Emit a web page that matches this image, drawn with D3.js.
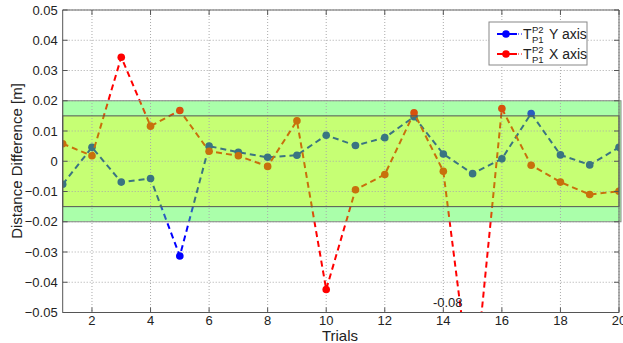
<!DOCTYPE html>
<html><head><meta charset="utf-8">
<script src="https://cdn.jsdelivr.net/npm/d3@7"></script>
<style>body{margin:0;background:#fff;} svg{font-family:"Liberation Sans",Arial,sans-serif;}</style>
</head><body><svg id="c" width="623" height="343"></svg>
<script>
const trials = d3.range(1, 21);
const yAxisSeries = [-0.0076,0.0046,-0.0069,-0.0057,-0.0313,0.0050,0.0030,0.0013,0.0020,0.0086,0.0052,0.0078,0.0147,0.0024,-0.0041,0.0008,0.0158,0.0021,-0.0012,0.0046];
const xAxisSeries = [0.0058,0.0018,0.0344,0.0116,0.0168,0.0033,0.0018,-0.0017,0.0134,-0.0424,-0.0094,-0.0044,0.0160,-0.0033,-0.0800,0.0174,-0.0013,-0.0069,-0.0110,-0.0099];
const yTicks = [-0.05,-0.04,-0.03,-0.02,-0.01,0,0.01,0.02,0.03,0.04,0.05];
const xTicks = [2,4,6,8,10,12,14,16,18,20];
const outerBand = [-0.02, 0.02];
const innerBand = [-0.015, 0.015];
const annotation = {x: 14.15, y: -0.08, label: "-0.08"};

const svg = d3.select("#c");
const L = 62.7, R = 619, T = 10, B = 312.5;
const x = d3.scaleLinear().domain([1,20]).range([L,R]);
const y = d3.scaleLinear().domain([-0.05,0.05]).range([B,T]);

const defs = svg.append("defs");
function clip(id, rects){
  const cp = defs.append("clipPath").attr("id",id);
  rects.forEach(r=>cp.append("rect").attr("x",L).attr("width",R-L)
    .attr("y",Math.min(r[0],r[1])).attr("height",Math.abs(r[1]-r[0])));
}
clip("cOut", [[T, y(outerBand[1])],[y(outerBand[0]), B]]);
clip("cStrip", [[y(outerBand[1]), y(innerBand[1])],[y(innerBand[0]), y(outerBand[0])]]);
clip("cIn", [[y(innerBand[1]), y(innerBand[0])]]);

// bands (behind)
svg.append("rect").attr("x",L).attr("y",y(outerBand[1])).attr("width",R-L+2)
  .attr("height",y(outerBand[0])-y(outerBand[1])).attr("fill","#aaffaa");
svg.append("rect").attr("x",L).attr("y",y(innerBand[1])).attr("width",R-L)
  .attr("height",y(innerBand[0])-y(innerBand[1])).attr("fill","#c6ff74");

// grid
const g = svg.append("g");
g.selectAll(".gx").data(xTicks).join("line")
  .attr("x1",d=>x(d)).attr("x2",d=>x(d)).attr("y1",T).attr("y2",B)
  .attr("stroke","#aaa").attr("stroke-width",1).attr("stroke-dasharray","1,2");
g.selectAll(".gy").data(yTicks).join("line")
  .attr("x1",L).attr("x2",R).attr("y1",d=>y(d)).attr("y2",d=>y(d))
  .attr("stroke","#aaa").attr("stroke-width",1).attr("stroke-dasharray","1,2");

// series
const series = [
  {name:"Y axis", data:yAxisSeries, color:"#0000ff", strip:"#2a5cc0", inner:"#3a7482"},
  {name:"X axis", data:xAxisSeries, color:"#ff0000", strip:"#d8500c", inner:"#c8700c"}
];
const line = d3.line().x((d,i)=>x(trials[i])).y(d=>y(d));
[["cOut","color"],["cStrip","strip"],["cIn","inner"]].forEach(([cid,key])=>{
  const sg = svg.append("g").attr("clip-path",`url(#${cid})`);
  series.forEach(s=>{
    sg.append("path").datum(s.data).attr("d",line).attr("fill","none")
      .attr("stroke",s[key]).attr("stroke-width",2).attr("stroke-dasharray","6,4");
    sg.selectAll(null).data(s.data).join("circle")
      .attr("cx",(d,i)=>x(trials[i])).attr("cy",d=>y(d)).attr("r",3.8).attr("fill",s[key]);
  });
});

// band borders
svg.append("rect").attr("x",L).attr("y",y(outerBand[1])).attr("width",R-L+2)
  .attr("height",y(outerBand[0])-y(outerBand[1]))
  .attr("fill","none").attr("stroke","#888").attr("stroke-width",1);
svg.append("rect").attr("x",L).attr("y",y(innerBand[1])).attr("width",R-L)
  .attr("height",y(innerBand[0])-y(innerBand[1]))
  .attr("fill","none").attr("stroke","#555").attr("stroke-width",1);

// axes frame
svg.append("line").attr("x1",L).attr("x2",R).attr("y1",T).attr("y2",T).attr("stroke","#666");
svg.append("line").attr("x1",R).attr("x2",R).attr("y1",T).attr("y2",B).attr("stroke","#666");
svg.append("line").attr("x1",L).attr("x2",L).attr("y1",T).attr("y2",B).attr("stroke","#555");
svg.append("line").attr("x1",L).attr("x2",R).attr("y1",B).attr("y2",B).attr("stroke","#555");

// ticks
const ax = svg.append("g");
ax.selectAll(".tx").data(xTicks).join("line")
  .attr("x1",d=>x(d)).attr("x2",d=>x(d)).attr("y1",B).attr("y2",B-5).attr("stroke","#555");
ax.selectAll(".tx2").data(xTicks).join("line")
  .attr("x1",d=>x(d)).attr("x2",d=>x(d)).attr("y1",T).attr("y2",T+5).attr("stroke","#555");
ax.selectAll(".ty").data(yTicks).join("line")
  .attr("x1",L).attr("x2",L+5).attr("y1",d=>y(d)).attr("y2",d=>y(d)).attr("stroke","#555");
ax.selectAll(".ty2").data(yTicks).join("line")
  .attr("x1",R).attr("x2",R-5).attr("y1",d=>y(d)).attr("y2",d=>y(d)).attr("stroke","#555");

ax.selectAll(".lx").data(xTicks).join("text")
  .attr("x",d=>x(d)).attr("y",B+12.5).attr("text-anchor","middle")
  .attr("font-size",13).attr("fill","#222").text(d=>d);
const fmt = d => d===0 ? "0" : d3.format(".2f")(d);
ax.selectAll(".ly").data(yTicks).join("text")
  .attr("x",L-5).attr("y",d=>y(d)+4.5).attr("text-anchor","end")
  .attr("font-size",13).attr("fill","#222").text(fmt);

// annotation
svg.append("text").attr("x",x(annotation.x)).attr("y",307).attr("text-anchor","middle")
  .attr("font-size",13).attr("fill","#222").text(annotation.label);

// axis labels
svg.append("text").attr("x",340).attr("y",341).attr("text-anchor","middle")
  .attr("font-size",15).attr("fill","#222").text("Trials");
svg.append("text").attr("transform","translate(22,161) rotate(-90)").attr("text-anchor","middle")
  .attr("font-size",15).attr("fill","#222").text("Distance Difference [m]");

// legend
const lg = svg.append("g");
lg.append("rect").attr("x",489).attr("y",22).attr("width",98).attr("height",43)
  .attr("fill","#fff").attr("stroke","#888").attr("stroke-width",1);
series.forEach((s,i)=>{
  const yy = 34 + i*20;
  lg.append("line").attr("x1",497).attr("x2",517).attr("y1",yy).attr("y2",yy)
    .attr("stroke",s.color).attr("stroke-width",2);
  lg.append("circle").attr("cx",506).attr("cy",yy).attr("r",3.8).attr("fill",s.color);
  lg.append("line").attr("x1",518).attr("x2",522).attr("y1",yy).attr("y2",yy)
    .attr("stroke",s.color).attr("stroke-width",1).attr("stroke-dasharray","1,2");
  lg.append("text").attr("x",523).attr("y",yy+5).attr("font-size",14).attr("fill","#222").text("T");
  lg.append("text").attr("x",532).attr("y",yy-1).attr("font-size",9.5).attr("fill","#222").text("P2");
  lg.append("text").attr("x",532).attr("y",yy+9).attr("font-size",9.5).attr("fill","#222").text("P1");
  lg.append("text").attr("x",549).attr("y",yy+5).attr("font-size",14).attr("fill","#222").text(s.name);
});
</script></body></html>
